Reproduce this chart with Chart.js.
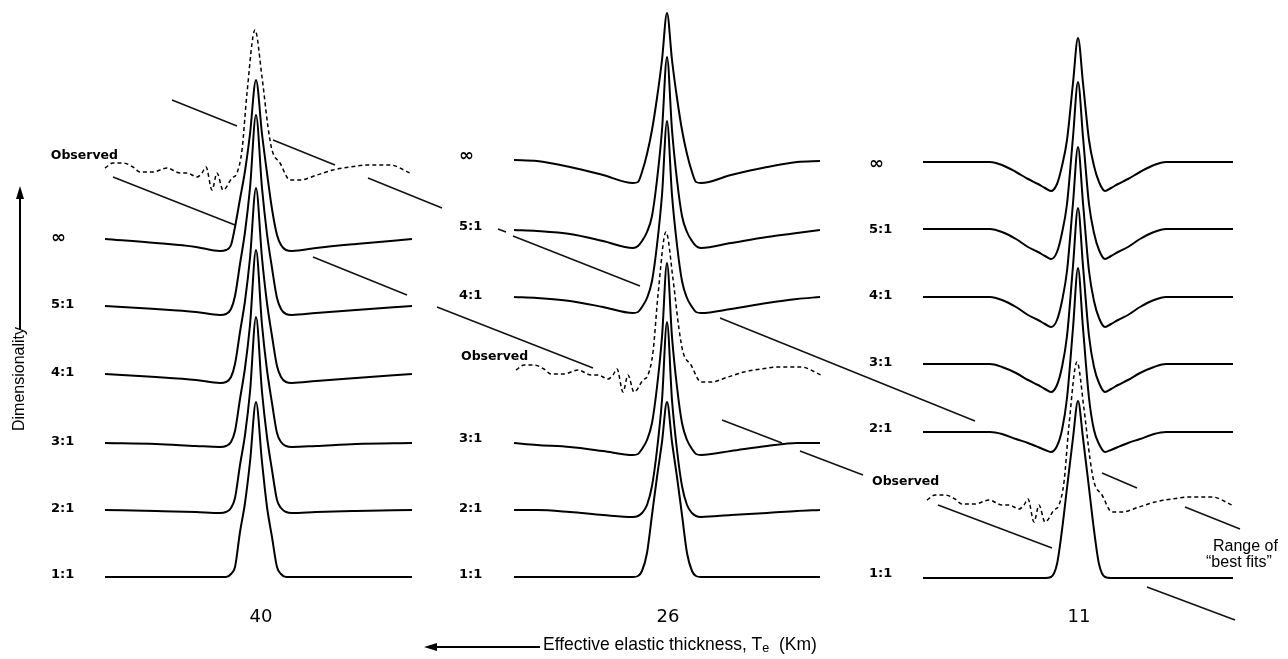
<!DOCTYPE html>
<html><head><meta charset="utf-8">
<script src="https://cdn.jsdelivr.net/npm/chart.js@4.4.1/dist/chart.umd.min.js"></script>
<style>html,body{margin:0;padding:0;background:#fff;}canvas{display:block;}</style>
</head><body>
<canvas id="c" width="1288" height="659"></canvas>
<script>
// ---------------- DATA ----------------
const dimensionality = ["∞", "5:1", "4:1", "3:1", "2:1", "1:1"];
const elasticThickness = ["40", "26", "11"];          // Te (km) of each panel
const panelCenters = [256, 667, 1078];                // profile centre (figure units)
// baseline level of each model profile (∞ ... 1:1) per panel
const baselines40 = [239, 306, 374, 443, 510, 577];
const baselines26 = [160, 230, 297, 443, 510, 577];
const baselines11 = [162, 229, 297, 364, 432, 578];
const observedBaselines = [168, 370, 500];

// Te = 40 km : offsets along profile and heights above baseline
const dist40 = [-151, -100, -60, -36, -30, -25, -21, -16, -11, -6, 0, 6, 11, 16, 21, 25, 30, 36, 60, 100, 156];
const te40_inf = [0, -4, -8, -12, -11, -6, 12, 40, 68, 105, 159, 105, 66, 30, 4, -6, -11, -12, -9, -5, 0];
const te40_5 = [0, -3, -6, -9, -8, -3, 10, 42, 74, 118, 191, 118, 72, 38, 8, -3, -8, -9, -7, -4, 0];
const te40_4 = [0, -3, -6, -9, -8, -3, 10, 42, 73, 116, 186, 116, 71, 38, 8, -3, -8, -9, -7, -4, 0];
const te40_3 = [0, -1, -3, -4, -3, 1, 12, 44, 75, 118, 193, 118, 73, 40, 10, 1, -3, -4, -3, -1, 0];
const te40_2 = [0, -1, -2, -3, -2, 2, 12, 45, 75, 118, 193, 118, 73, 40, 10, 2, -2, -3, -2, -1, 0];
const te40_1 = [0, 0, 0, 0, 0, 3, 10, 45, 74, 115, 175, 115, 70, 40, 10, 3, 0, 0, 0, 0, 0];

// Te = 26 km
const dist26 = [-153, -130, -97, -64, -34, -29, -25, -20, -15, -10, -5, 0, 5, 10, 15, 20, 25, 29, 34, 64, 100, 130, 153];
const te26_inf = [0, -1, -7, -15, -23, -22, -12, 6, 30, 62, 100, 147, 100, 62, 30, 6, -12, -22, -23, -15, -7, -2, -1];
const te26_5 = [0, -1, -4, -11, -18, -16, -11, -2, 14, 50, 100, 173, 100, 50, 14, -2, -11, -16, -18, -13, -7, -3, 0];
const te26_4 = [0, -1, -4, -10, -16, -15, -10, -1, 16, 52, 102, 176, 102, 52, 16, -1, -10, -15, -16, -12, -6, -2, 0];
const te26_3 = [0, -2, -4, -8, -12, -11, -6, 3, 20, 56, 106, 180, 106, 56, 20, 3, -6, -11, -12, -8, -3, 0, 0];
const te26_2 = [0, 0, -2, -5, -7, -6, -3, 5, 24, 60, 110, 188, 110, 60, 24, 5, -3, -6, -7, -5, -3, -1, 0];
const te26_1 = [0, 0, 0, 0, 0, 1, 6, 24, 62, 100, 135, 175, 135, 100, 62, 24, 6, 1, 0, 0, 0, 0, 0];

// Te = 11 km
const dist11 = [-155, -120, -88, -76, -62, -50, -40, -33, -27, -21, -16, -11, -5, 0, 5, 11, 16, 21, 27, 33, 40, 50, 62, 76, 88, 120, 155];
const te11_inf = [0, 0, 0, -3, -10, -17, -22, -26, -29, -22, -4, 22, 79, 124, 79, 22, -4, -20, -29, -26, -22, -17, -10, -3, 0, 0, 0];
const te11_5 = [0, 0, 0, -3, -10, -18, -23, -27, -30, -23, -4, 25, 92, 147, 92, 25, -4, -21, -30, -27, -23, -18, -10, -3, 0, 0, 0];
const te11_4 = [0, 0, 0, -3, -10, -18, -23, -27, -30, -23, -4, 26, 94, 150, 94, 26, -4, -21, -30, -27, -23, -18, -10, -3, 0, 0, 0];
const te11_3 = [0, 0, 0, -3, -9, -16, -21, -25, -28, -21, -3, 28, 98, 156, 98, 28, -3, -19, -28, -25, -21, -16, -9, -3, 0, 0, 0];
const te11_2 = [0, 0, 0, -2, -7, -11, -15, -18, -20, -14, 2, 34, 104, 164, 104, 34, 2, -12, -20, -18, -15, -11, -7, -2, 0, 0, 0];
const te11_1 = [0, 0, 0, 0, 0, 0, 0, 0, 1, 14, 48, 90, 140, 177, 140, 90, 48, 14, 1, 0, 0, 0, 0, 0, 0, 0, 0];

// Observed profile (same in every panel)
const observedDist = [-151, -143, -133, -123, -116, -103, -89, -76, -69, -59, -54, -50, -44, -39, -33, -24, -19, -14, -9, -1, 6, 12, 16, 24, 34, 44, 61, 77, 94, 111, 134, 154];
const observedHeight = [0, 5, 5, 1, -4, -4, 0, -5, -5, -9, -5, 1, -22, -5, -22, -10, -5, 18, 75, 138, 91, 41, 18, 5, -12, -12, -7, -2, 1, 3, 3, -5];

// Range of "best fits" bounding lines (visible pieces)
const upperFitX = [[172, 237], [273, 335], [368, 442], [498, 506], [513, 640], [720, 975], [1102, 1137], [1185, 1240]];
const upperFitY = [[100, 126], [140, 165], [178, 208], [229, 232], [236, 286], [318, 421], [473, 488], [507, 529]];
const lowerFitX = [[113, 235], [313, 407], [437, 593], [722, 782], [800, 863], [938, 1052], [1147, 1235]];
const lowerFitY = [[177, 225], [257, 295], [307, 368], [420, 443], [451, 475], [505, 548], [587, 620]];

// ---------------- BUILD DATASETS ----------------
const panels = [
  { dist: dist40, base: baselines40, curves: [te40_inf, te40_5, te40_4, te40_3, te40_2, te40_1] },
  { dist: dist26, base: baselines26, curves: [te26_inf, te26_5, te26_4, te26_3, te26_2, te26_1] },
  { dist: dist11, base: baselines11, curves: [te11_inf, te11_5, te11_4, te11_3, te11_2, te11_1] }
];

const datasets = [];
function fitLine(xs, ys) {
  const pts = [];
  xs.forEach((seg, i) => {
    pts.push({ x: seg[0], y: ys[i][0] }, { x: seg[1], y: ys[i][1] });
    if (i < xs.length - 1) pts.push({ x: (seg[1] + xs[i + 1][0]) / 2, y: null });
  });
  return pts;
}
datasets.push({ data: fitLine(upperFitX, upperFitY), borderColor: '#111', borderWidth: 1.5, tension: 0, spanGaps: false, pointRadius: 0 });
datasets.push({ data: fitLine(lowerFitX, lowerFitY), borderColor: '#111', borderWidth: 1.5, tension: 0, spanGaps: false, pointRadius: 0 });

panels.forEach((p, pi) => {
  const cx = panelCenters[pi];
  p.curves.forEach((h, ci) => {
    datasets.push({
      data: p.dist.map((d, k) => ({ x: cx + d, y: p.base[ci] - h[k] })),
      borderColor: '#000', borderWidth: 2, pointRadius: 0,
      cubicInterpolationMode: 'monotone', fill: false
    });
  });
  datasets.push({
    data: observedDist.map((d, k) => ({ x: cx + d, y: observedBaselines[pi] - observedHeight[k] })),
    borderColor: '#000', borderWidth: 1.5, borderDash: [4, 3], pointRadius: 0,
    cubicInterpolationMode: 'monotone', fill: false
  });
});

// ---------------- TEXT / ANNOTATION PLUGIN ----------------
const labelLayout = [
  { x: 51, ys: [238, 305, 373, 442, 509, 575], obs: { x: 118, y: 156, align: 'right' } },
  { x: 459, ys: [156, 227, 296, 439, 509, 575], obs: { x: 461, y: 357, align: 'left' } },
  { x: 869, ys: [164, 230, 296, 363, 429, 574], obs: { x: 872, y: 482, align: 'left' } }
];
const teLabelX = [261, 668, 1079];

const annot = {
  id: 'annot',
  afterDraw(chart) {
    const ctx = chart.ctx, sx = chart.scales.x, sy = chart.scales.y;
    const X = v => sx.getPixelForValue(v), Y = v => sy.getPixelForValue(v);
    ctx.save();
    ctx.fillStyle = '#000'; ctx.strokeStyle = '#000';
    ctx.textBaseline = 'middle';
    labelLayout.forEach((L, pi) => {
      dimensionality.forEach((t, i) => {
        ctx.textAlign = 'left';
        ctx.font = t === '∞' ? 'bold 18px "DejaVu Sans"' : 'bold 13px "DejaVu Sans"';
        ctx.fillText(t, X(L.x), Y(L.ys[i]));
      });
      ctx.font = 'bold 12.5px "DejaVu Sans"';
      ctx.textAlign = L.obs.align;
      ctx.fillText('Observed', X(L.obs.x), Y(L.obs.y));
      ctx.font = '18px "DejaVu Sans"';
      ctx.textAlign = 'center';
      ctx.fillText(elasticThickness[pi], X(teLabelX[pi]), Y(617));
    });

    // bottom axis title with subscript
    const fam = '"Liberation Sans"';
    let fs = 18;
    const partA = 'Effective elastic thickness, T', sub = 'e', partB = '  (Km)';
    const measure = () => { ctx.font = fs + 'px ' + fam; const a = ctx.measureText(partA).width + ctx.measureText(partB).width; ctx.font = (fs * 0.72) + 'px ' + fam; return a + ctx.measureText(sub).width; };
    fs = fs * 274 / measure();
    let x0 = X(543), yb = Y(645);
    ctx.textAlign = 'left';
    ctx.font = fs + 'px ' + fam;
    ctx.fillText(partA, x0, yb);
    x0 += ctx.measureText(partA).width;
    ctx.font = (fs * 0.72) + 'px ' + fam;
    ctx.fillText(sub, x0, yb + 4);
    x0 += ctx.measureText(sub).width;
    ctx.font = fs + 'px ' + fam;
    ctx.fillText(partB, x0, yb);
    // left arrow
    ctx.lineWidth = 2;
    ctx.beginPath(); ctx.moveTo(X(540), Y(647)); ctx.lineTo(X(432), Y(647)); ctx.stroke();
    ctx.beginPath(); ctx.moveTo(X(424), Y(647)); ctx.lineTo(X(437), Y(643)); ctx.lineTo(X(437), Y(651)); ctx.closePath(); ctx.fill();

    // vertical axis title
    ctx.save();
    ctx.translate(X(20), Y(379));
    ctx.rotate(-Math.PI / 2);
    ctx.font = '16px "Liberation Sans"';
    ctx.textAlign = 'center';
    ctx.fillText('Dimensionality', 0, 0);
    ctx.restore();
    ctx.beginPath(); ctx.moveTo(X(20), Y(330)); ctx.lineTo(X(20), Y(196)); ctx.stroke();
    ctx.beginPath(); ctx.moveTo(X(20), Y(186)); ctx.lineTo(X(16), Y(199)); ctx.lineTo(X(24), Y(199)); ctx.closePath(); ctx.fill();

    // range of best fits note
    ctx.font = '16px "Liberation Sans"';
    ctx.textAlign = 'left';
    ctx.fillText('Range of', X(1213), Y(547));
    ctx.fillText('\u201Cbest fits\u201D', X(1206), Y(563));
    ctx.restore();
  }
};

new Chart(document.getElementById('c').getContext('2d'), {
  type: 'line',
  data: { datasets },
  options: {
    responsive: false, animation: false, devicePixelRatio: 1,
    layout: { padding: 0 },
    events: [],
    plugins: { legend: { display: false }, tooltip: { enabled: false } },
    scales: {
      x: { type: 'linear', min: 0, max: 1288, display: false },
      y: { type: 'linear', min: 0, max: 659, reverse: true, display: false }
    },
    elements: { point: { radius: 0 } }
  },
  plugins: [annot]
});
</script>
</body></html>
